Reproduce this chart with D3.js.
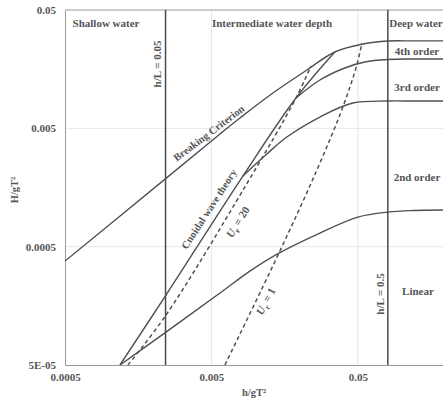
<!DOCTYPE html>
<html>
<head>
<meta charset="utf-8">
<script src="https://cdn.jsdelivr.net/npm/d3@7"></script>
<style>
  html, body { margin: 0; padding: 0; background: #fff; }
  svg { display: block; }
  text { font-family: "Liberation Serif", "DejaVu Serif", serif; fill: #555; }
</style>
</head>
<body>
<div id="chart"></div>
<script>
// axis ticks
const xTicks = [0.0005, 0.005, 0.05];
const xTickLabels = ['0.0005', '0.005', '0.05'];
const yTicks = [0.00005, 0.0005, 0.005, 0.05];
const yTickLabels = ['5E-05', '0.0005', '0.005', '0.05'];

// region boundaries (h/gT²)
const shallowLimit = 0.00243;   // h/L = 0.05
const deepLimit = 0.0801;       // h/L = 0.5

// curves: [h/gT², H/gT²]
const breaking = [[0.0005, 0.000378], [0.00241, 0.00186], [0.00572, 0.00448], [0.00783, 0.00611],
  [0.01315, 0.00994], [0.02244, 0.01556], [0.0348, 0.02208], [0.0541, 0.0258], [0.0801, 0.02735],
  [0.12, 0.0274], [0.2, 0.0274]];
const order4 = [[0.0189, 0.00902], [0.02754, 0.0128], [0.0407, 0.01617], [0.0558, 0.01818],
  [0.0801, 0.01908], [0.12, 0.01926], [0.2, 0.01926]];
const order3 = [[0.0082, 0.001977], [0.012, 0.00305], [0.01637, 0.00422], [0.02754, 0.00623],
  [0.0462, 0.00818], [0.0801, 0.00851], [0.12, 0.00851], [0.2, 0.00851]];
const order2 = [[0.001187, 0.00005], [0.002446, 0.0000949], [0.00572, 0.000203], [0.00916, 0.000311],
  [0.01445, 0.000441], [0.02754, 0.000652], [0.05, 0.000889], [0.0801, 0.00098], [0.12, 0.00101], [0.2, 0.00102]];
const cnoidal = [[0.001187, 0.00005], [0.002446, 0.000195], [0.0082, 0.001977], [0.0189, 0.00902], [0.0348, 0.02208]];
const ursell20 = [[0.001346, 0.00005], [0.002446, 0.000132], [0.00847, 0.0016], [0.0189, 0.00902], [0.0239, 0.0168]];
const ursell1 = [[0.00618, 0.00005], [0.01445, 0.000441], [0.02625, 0.00222], [0.0395, 0.00757],
  [0.0492, 0.01714], [0.0533, 0.0263]];

const W = 443, H = 399;
const svg = d3.select('#chart').append('svg').attr('width', W).attr('height', H);

const x = d3.scaleLog().domain([0.0005, 0.2]).range([65, 446]);
const y = d3.scaleLog().domain([0.00005, 0.05]).range([365, 10]);

// grid
const grid = svg.append('g').attr('stroke', '#e6e6e6').attr('stroke-width', 1);
xTicks.slice(1).forEach(t => grid.append('line')
  .attr('x1', x(t)).attr('x2', x(t)).attr('y1', y.range()[0]).attr('y2', y.range()[1]));
yTicks.slice(1, -1).forEach(t => grid.append('line')
  .attr('y1', y(t)).attr('y2', y(t)).attr('x1', x.range()[0]).attr('x2', x.range()[1]));

// axes
const xAxis = d3.axisBottom(x).tickValues(xTicks).tickSize(0).tickPadding(8)
  .tickFormat((d, i) => xTickLabels[i]);
const yAxis = d3.axisLeft(y).tickValues(yTicks).tickSize(0).tickPadding(9)
  .tickFormat((d, i) => yTickLabels[i]);

const gx = svg.append('g').attr('transform', `translate(0,${y.range()[0]})`).call(xAxis);
const gy = svg.append('g').attr('transform', `translate(${x.range()[0]},0)`).call(yAxis);
[gx, gy].forEach(g => {
  g.select('.domain').attr('stroke', '#999');
  g.selectAll('text').attr('font-size', 11).attr('font-weight', 'bold')
    .attr('font-family', '"Liberation Serif", serif').attr('fill', '#666');
});
// top frame
svg.append('line').attr('x1', x.range()[0]).attr('x2', x.range()[1])
  .attr('y1', y.range()[1]).attr('y2', y.range()[1]).attr('stroke', '#999');

// clip
svg.append('clipPath').attr('id', 'plot').append('rect')
  .attr('x', x.range()[0]).attr('y', y.range()[1])
  .attr('width', x.range()[1] - x.range()[0]).attr('height', y.range()[0] - y.range()[1]);

const plot = svg.append('g').attr('clip-path', 'url(#plot)');

// region lines
[shallowLimit, deepLimit].forEach(v => plot.append('line')
  .attr('x1', x(v)).attr('x2', x(v)).attr('y1', y.range()[0]).attr('y2', y.range()[1])
  .attr('stroke', '#4a4a4a').attr('stroke-width', 1.5));

const line = d3.line().x(d => x(d[0])).y(d => y(d[1])).curve(d3.curveCatmullRom.alpha(0.5));

[breaking, order4, order3, order2, cnoidal].forEach(s => plot.append('path')
  .datum(s).attr('d', line).attr('fill', 'none')
  .attr('stroke', '#505050').attr('stroke-width', 1.4));

[ursell20, ursell1].forEach(s => plot.append('path')
  .datum(s).attr('d', line).attr('fill', 'none')
  .attr('stroke', '#505050').attr('stroke-width', 1.5).attr('stroke-dasharray', '4,3'));

// labels
function label(txt, px, py, rot, opts = {}) {
  const t = svg.append('text')
    .attr('transform', `translate(${px},${py}) rotate(${rot || 0})`)
    .attr('text-anchor', opts.anchor || 'middle')
    .attr('font-size', opts.size || 11)
    .attr('font-weight', 'bold')
    .attr('fill', '#5e5e5e');
  t.text(txt);
  return t;
}

label('Shallow water', 106, 27, 0);
label('Intermediate water depth', 272, 27, 0);
label('Deep water', 416, 27, 0);
label('4th order', 417, 55, 0);
label('3rd order', 417, 91, 0);
label('2nd order', 417, 181, 0);
label('Linear', 418, 295, 0);
label('h/L = 0.05', 161, 64, -90);
label('h/L = 0.5', 384, 294, -90);
label('Breaking Criterion', 211, 136, -37, { size: 10.5 });
label('Cnoidal wave theory', 212, 211, -57, { size: 10.5 });

function ursellLabel(val, px, py, rot) {
  const t = svg.append('text')
    .attr('transform', `translate(${px},${py}) rotate(${rot})`)
    .attr('text-anchor', 'middle').attr('font-size', 11)
    .attr('font-weight', 'bold').attr('fill', '#5e5e5e');
  t.append('tspan').attr('font-style', 'italic').text('U');
  t.append('tspan').attr('font-size', 8).attr('dy', 3).text('r');
  t.append('tspan').attr('dy', -3).text(' = ' + val);
}
ursellLabel('20', 241, 224, -58);
ursellLabel('1', 269, 303, -62);

// axis titles
label('H/gT²', 18, 190, -90, { size: 10.5 });
label('h/gT²', 254, 396, 0, { size: 10.5 });
</script>
</body>
</html>
